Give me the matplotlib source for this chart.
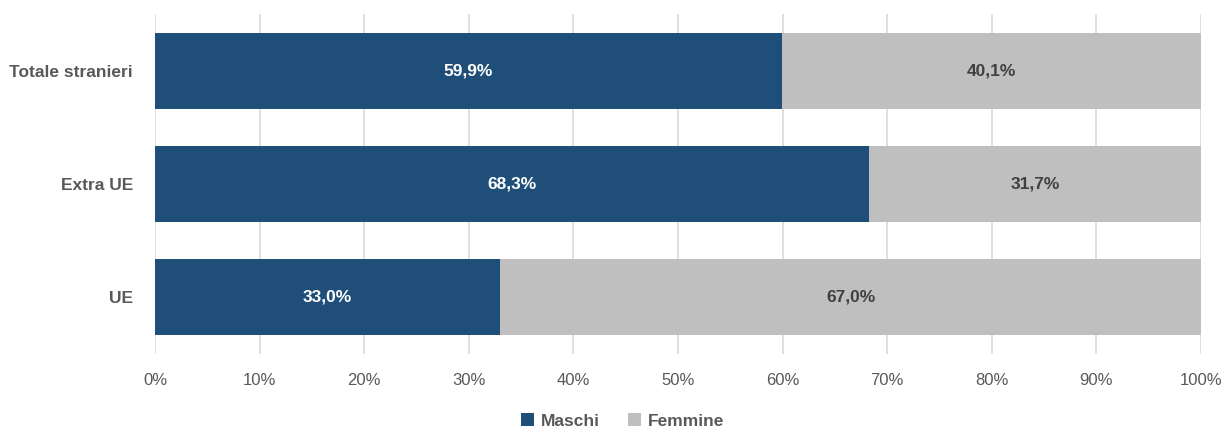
import matplotlib
matplotlib.use("Agg")
import matplotlib.pyplot as plt
from matplotlib import font_manager
import numpy as np

categories = ["UE", "Extra UE", "Totale stranieri"]
maschi = [33.0, 68.3, 59.9]
femmine = [67.0, 31.7, 40.1]
series_names = ["Maschi", "Femmine"]
xticks = [0, 10, 20, 30, 40, 50, 60, 70, 80, 90, 100]

names = {f.name for f in font_manager.fontManager.ttflist}
fam = "Liberation Sans Narrow" if "Liberation Sans Narrow" in names else "Liberation Sans"
plt.rcParams['font.family'] = [fam, 'DejaVu Sans']

blue = "#1F4E79"
grey = "#BFBFBF"
txt = "#595959"

fig = plt.figure(figsize=(12.26, 4.30), dpi=100)
ax = fig.add_axes([155/1226, 1-354/430, 1046/1226, 340/430])

y = np.arange(len(categories))
h = 0.67
b1 = ax.barh(y, maschi, height=h, color=blue, label=series_names[0], zorder=3)
b2 = ax.barh(y, femmine, left=maschi, height=h, color=grey, label=series_names[1], zorder=3)

for i in range(len(categories)):
    ax.text(maschi[i]/2, y[i], f"{maschi[i]:.1f}%".replace(".", ","), ha="center", va="center",
            color="white", fontsize=12.5, fontweight="bold", zorder=4)
    ax.text(maschi[i] + femmine[i]/2, y[i], f"{femmine[i]:.1f}%".replace(".", ","), ha="center", va="center",
            color="#404040", fontsize=12.5, fontweight="bold", zorder=4)

ax.set_xlim(0, 100)
ax.set_ylim(-0.5, 2.5)
ax.set_xticks(xticks)
ax.set_xticklabels([f"{t}%" for t in xticks], color=txt, fontsize=12)
ax.set_yticks(y)
ax.set_yticklabels(categories, color=txt, fontsize=12.5, fontweight="bold")
ax.grid(axis="x", color="#D9D9D9", linewidth=1.2, zorder=0)
for s in ax.spines.values():
    s.set_visible(False)
ax.tick_params(axis="both", length=0)
ax.tick_params(axis="x", pad=14)
ax.tick_params(axis="y", pad=16)

leg = fig.legend(handles=[b1, b2], loc="center", bbox_to_anchor=(0.508, 1-421/430), ncol=2,
                 frameon=False, handlelength=0.75, handleheight=0.75, handletextpad=0.4,
                 columnspacing=1.6, prop={"family": [fam, 'DejaVu Sans'], "weight": "bold", "size": 12.5})
for t in leg.get_texts():
    t.set_color(txt)

fig.savefig("out.png", dpi=100)
